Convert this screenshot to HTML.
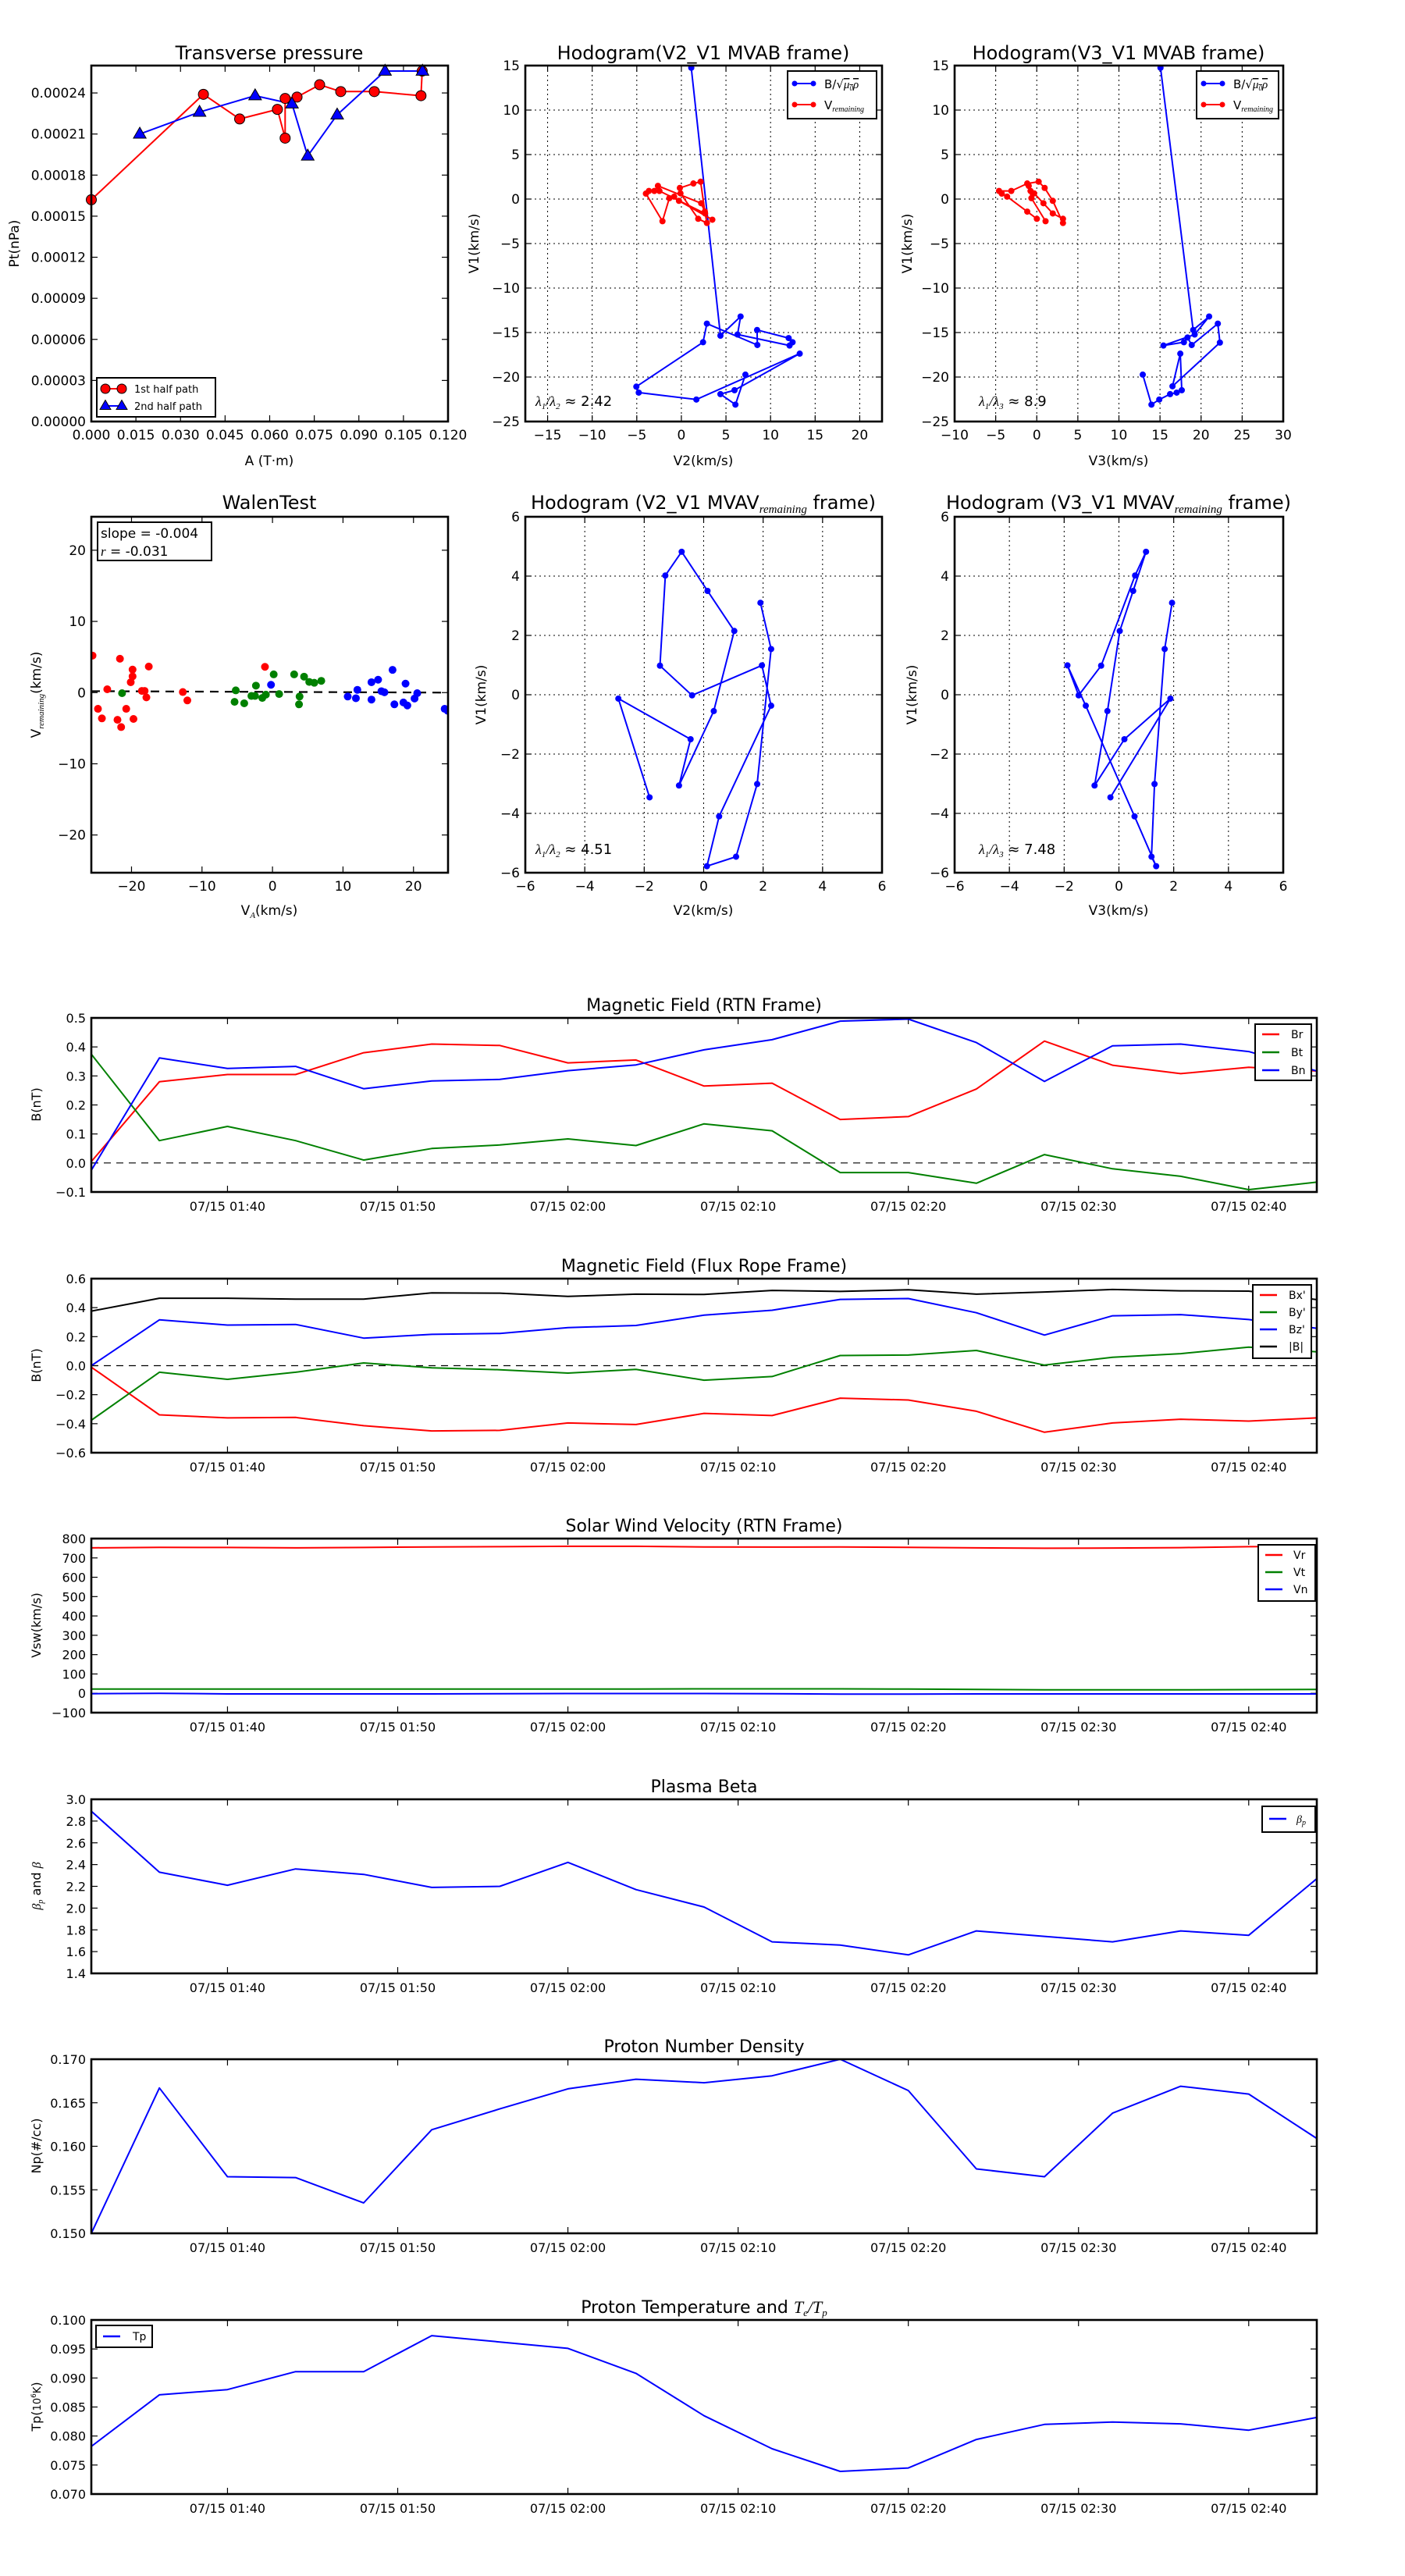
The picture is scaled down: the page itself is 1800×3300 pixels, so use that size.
<!DOCTYPE html>
<html><head><meta charset="utf-8">
<style>
html,body{margin:0;padding:0;background:#fff;}
svg{display:block;font-family:"DejaVu Sans","Liberation Sans",sans-serif;}
</style></head>
<body>
<svg id="fig" xmlns="http://www.w3.org/2000/svg" width="1800" height="3300" viewBox="0 0 1800 3300">
<rect x="0" y="0" width="1800" height="3300" fill="#fff"/>
</svg>
<script>
// ---------- Transverse pressure ----------
const ptRedA=[0,0.0377,0.0499,0.0626,0.0652,0.0652,0.0692,0.0768,0.0839,0.0952,0.1109,0.1113];
const ptRedP=[0.000162,0.000239,0.000221,0.000228,0.000207,0.000236,0.000237,0.000246,0.000241,0.000241,0.000238,0.000256];
const ptBlueA=[0.0163,0.0364,0.0551,0.0675,0.0728,0.0827,0.0988,0.1114];
const ptBlueP=[0.000210,0.000226,0.000238,0.000232,0.000194,0.000224,0.000256,0.000256];
const ptXTicks=[0,0.015,0.03,0.045,0.06,0.075,0.09,0.105,0.12];
const ptYTicks=[0,0.00003,0.00006,0.00009,0.00012,0.00015,0.00018,0.00021,0.00024];
// ---------- Hodogram V2_V1 MVAB ----------
const h1BlueV2=[1.11,4.38,6.64,6.3,12.13,12.47,12.03,8.49,8.52,2.86,2.43,-5.05,-4.78,1.68,13.27,5.96,4.38,6.06,7.18];
const h1BlueV1=[14.75,-15.35,-13.2,-15.22,-16.46,-16.09,-15.62,-14.71,-16.4,-14.0,-16.09,-21.08,-21.75,-22.53,-17.37,-21.48,-21.92,-23.1,-19.73];
const h1RedV2=[3.47,-0.27,-0.81,-1.35,-2.12,-3.98,-3.64,-3.03,-2.63,2.22,2.63,2.86,1.89,-0.1,-0.17,1.35,2.16,2.66,-2.46];
const h1RedV1=[-2.32,-0.2,0.27,0.1,-2.49,0.61,0.91,0.91,1.48,-0.47,-1.41,-2.69,-2.22,0.64,1.25,1.75,1.95,-1.62,0.91];
// ---------- Hodogram V3_V1 MVAB ----------
const h2BlueV3=[15.06,19.04,20.98,19.22,15.42,17.91,18.35,18.86,22.04,22.29,16.52,17.47,17.65,17.03,16.23,14.91,13.96,12.9];
const h2BlueV1=[14.75,-14.71,-13.2,-15.22,-16.46,-16.09,-15.56,-16.4,-14.0,-16.13,-21.04,-17.37,-21.48,-21.75,-21.92,-22.53,-23.1,-19.73];
const h2RedV3=[0.01,-1.16,-3.61,-4.26,-4.59,-3.1,-1.16,0.23,0.96,1.95,3.19,3.19,1.95,0.81,-0.32,-0.76,-0.98,-0.65,1.07];
const h2RedV1=[-2.22,-1.41,0.27,0.61,0.91,0.91,1.75,1.95,1.25,-0.2,-2.69,-2.22,-1.62,-0.47,0.64,0.91,1.48,0.1,-2.49];
const hodoYTicks=[-25,-20,-15,-10,-5,0,5,10,15];
const h1XTicks=[-15,-10,-5,0,5,10,15,20];
const h2XTicks=[-10,-5,0,5,10,15,20,25,30];
// ---------- Walen test ----------
const walRedX=[-25.53,-21.64,-19.85,-19.85,-20.11,-17.55,-23.44,-18.53,-18.14,-17.89,-24.76,-24.2,-20.75,-21.99,-21.47,-19.72,-12.72,-12.08,-1.07];
const walRedY=[5.2,4.76,3.23,2.28,1.46,3.66,0.47,0.24,0.24,-0.67,-2.28,-3.62,-2.28,-3.82,-4.84,-3.7,0.08,-1.1,3.62];
const walGreenX=[-21.34,-5.21,-5.38,-4.01,-2.35,-2.99,-2.48,-1.45,-0.94,0.17,0.94,3.07,4.48,5.21,5.93,6.92,3.84,3.76];
const walGreenY=[-0.08,0.31,-1.3,-1.5,0.98,-0.47,-0.47,-0.75,-0.28,2.56,-0.2,2.56,2.24,1.5,1.38,1.65,-0.55,-1.65];
const walBlueX=[-0.21,10.67,11.83,12.04,14.04,14.98,14.04,15.45,15.88,17.03,17.29,18.87,18.57,19.13,20.15,20.53,24.42,24.85];
const walBlueY=[1.1,-0.55,-0.79,0.39,1.46,1.81,-0.98,0.2,0.04,3.19,-1.65,1.26,-1.38,-1.81,-0.83,-0.08,-2.28,-2.56];
const walFit=[-0.004,0.1];
const walTicks=[-20,-10,0,10,20];
// ---------- MVAV hodograms ----------
const mvV2=[-1.82,-2.87,-0.44,-0.83,0.34,1.03,0.13,-0.74,-1.29,-1.47,-0.39,1.96,2.27,0.52,0.11,1.09,1.8,2.27,1.91];
const mvV1=[-3.46,-0.13,-1.5,-3.06,-0.55,2.15,3.5,4.82,4.02,0.98,-0.02,0.99,-0.37,-4.1,-5.78,-5.46,-3.01,1.54,3.1];
const mvV3=[-0.31,1.88,0.2,-0.89,-0.42,0.03,0.52,0.99,0.59,-0.65,-1.47,-1.88,-1.21,0.57,1.36,1.19,1.3,1.67,1.94];
const mvTicks=[-6,-4,-2,0,2,4,6];
// ---------- Time series (minutes after 01:32, every 4 min) ----------
const tMin=[0,4,8,12,16,20,24,28,32,36,40,44,48,52,56,60,64,68,72];
const tTickMin=[8,18,28,38,48,58,68];
const tTickLabels=["07/15 01:40","07/15 01:50","07/15 02:00","07/15 02:10","07/15 02:20","07/15 02:30","07/15 02:40"];
const bR=[0.005,0.28,0.305,0.305,0.38,0.41,0.405,0.345,0.355,0.265,0.275,0.15,0.16,0.255,0.42,0.337,0.308,0.33,0.317];
const bT=[0.375,0.077,0.126,0.077,0.01,0.05,0.062,0.083,0.06,0.135,0.111,-0.033,-0.033,-0.07,0.029,-0.02,-0.046,-0.092,-0.066];
const bN=[-0.025,0.362,0.326,0.333,0.256,0.283,0.288,0.318,0.338,0.39,0.425,0.489,0.496,0.415,0.281,0.404,0.41,0.384,0.317];
const bxP=[-0.01,-0.339,-0.36,-0.357,-0.414,-0.45,-0.446,-0.395,-0.406,-0.329,-0.344,-0.224,-0.237,-0.314,-0.459,-0.395,-0.369,-0.382,-0.36];
const byP=[-0.376,-0.045,-0.094,-0.045,0.019,-0.015,-0.028,-0.051,-0.026,-0.1,-0.075,0.07,0.073,0.105,0.004,0.058,0.083,0.128,0.096];
const bzP=[0,0.316,0.28,0.284,0.19,0.216,0.222,0.262,0.277,0.348,0.382,0.457,0.463,0.365,0.211,0.344,0.352,0.318,0.258];
const bMag=[0.376,0.465,0.465,0.459,0.459,0.502,0.5,0.478,0.493,0.491,0.519,0.512,0.523,0.493,0.508,0.525,0.516,0.514,0.455];
const vR=[752,755,754,752,754,757,758,760,760,757,756,757,755,752,750,751,753,758,760];
const vT=[22,22,22,22,22,22,22,22,22,23,23,23,22,20,18,18,18,19,20];
const vN=[-2,0,-3,-3,-3,-3,-2,-1,-1,-1,-2,-4,-4,-3,-3,-3,-3,-3,-3];
const betaP=[2.89,2.33,2.21,2.36,2.31,2.19,2.2,2.42,2.17,2.01,1.69,1.66,1.57,1.79,1.74,1.69,1.79,1.75,2.27];
const npDen=[0.150,0.1667,0.1565,0.1564,0.1535,0.1619,0.1643,0.1666,0.1677,0.1673,0.1681,0.170,0.1664,0.1574,0.1565,0.1638,0.1669,0.166,0.1609];
const tpTemp=[0.0782,0.0871,0.088,0.0911,0.0911,0.0973,0.0962,0.0951,0.0908,0.0835,0.0778,0.0739,0.0745,0.0794,0.082,0.0824,0.0821,0.081,0.0832];
const rtnTicks=[-0.1,0,0.1,0.2,0.3,0.4,0.5];
const fluxTicks=[-0.6,-0.4,-0.2,0,0.2,0.4,0.6];
const velTicks=[-100,0,100,200,300,400,500,600,700,800];
const betaTicks=[1.4,1.6,1.8,2.0,2.2,2.4,2.6,2.8,3.0];
const npTicks=[0.150,0.155,0.160,0.165,0.170];
const tpTicks=[0.070,0.075,0.080,0.085,0.090,0.095,0.100];

const NS='http://www.w3.org/2000/svg';
const svg=document.getElementById('fig');
function el(tag,attrs,parent,name){
  const e=document.createElementNS(NS,tag);
  for(const k in attrs) e.setAttribute(k,attrs[k]);
  
  
  (parent||svg).appendChild(e);
  return e;
}
function txt(x,y,s,size,anchor,parent,name,extra){
  const t=el('text',Object.assign({x:x,y:y,'font-size':size,'text-anchor':anchor,fill:'#000'},extra||{}),parent,name);
  t.innerHTML=s;
  return t;
}
function fmt(v,d){ return v.toFixed(d).replace('-','\u2212'); }
let clipId=0;
function axes(o){
  const g=el('g',{},svg,o.name);
  const sx=v=>o.l+(v-o.xmin)/(o.xmax-o.xmin)*(o.r-o.l);
  const sy=v=>o.b-(v-o.ymin)/(o.ymax-o.ymin)*(o.b-o.t);
  const id='c'+(clipId++);
  const cp=el('clipPath',{id:id},g,'clip-region');
  el('rect',{x:o.l,y:o.t,width:o.r-o.l,height:o.b-o.t},cp,'clip-rect');
  const tl=8;
  (o.xticks||[]).forEach((v,i)=>{
    const x=sx(v);
    if(o.grid) el('line',{x1:x,y1:o.t,x2:x,y2:o.b,stroke:'#000','stroke-width':1,'stroke-dasharray':'2,4'},g,'x-grid-line');
    el('line',{x1:x,y1:o.b,x2:x,y2:o.b-tl,stroke:'#000','stroke-width':1.2},g,'x-tick');
    el('line',{x1:x,y1:o.t,x2:x,y2:o.t+tl,stroke:'#000','stroke-width':1.2},g,'x-tick');
    const lab=o.xlabels?o.xlabels[i]:o.xfmt(v);
    txt(x,o.b+(o.xlabOff||23),lab,o.tickSize||17,'middle',g,'x-tick-label');
  });
  (o.yticks||[]).forEach((v,i)=>{
    const y=sy(v);
    if(o.grid) el('line',{x1:o.l,y1:y,x2:o.r,y2:y,stroke:'#000','stroke-width':1,'stroke-dasharray':'2,4'},g,'y-grid-line');
    el('line',{x1:o.l,y1:y,x2:o.l+tl,y2:y,stroke:'#000','stroke-width':1.2},g,'y-tick');
    el('line',{x1:o.r,y1:y,x2:o.r-tl,y2:y,stroke:'#000','stroke-width':1.2},g,'y-tick');
    txt(o.l-7,y+6,o.yfmt(v),o.tickSize||17,'end',g,'y-tick-label');
  });
  const data=el('g',{'clip-path':'url(#'+id+')'},g,'plot-area');
  return {g,sx,sy,data,o};
}
function frame(a){
  const o=a.o;
  el('rect',{x:o.l,y:o.t,width:o.r-o.l,height:o.b-o.t,fill:'none',stroke:'#000','stroke-width':2.6},a.g,'axes-frame');
}
function line(a,xs,ys,color,name,w){
  const pts=xs.map((x,i)=>a.sx(x).toFixed(1)+','+a.sy(ys[i]).toFixed(1)).join(' ');
  el('polyline',{points:pts,fill:'none',stroke:color,'stroke-width':w||2,'stroke-linejoin':'round'},a.data,name);
}
function dots(a,xs,ys,color,r,name,stroke){
  xs.forEach((x,i)=>{
    el('circle',{cx:a.sx(x),cy:a.sy(ys[i]),r:r,fill:color,stroke:stroke||'none','stroke-width':1},a.g,name);
  });
}
function tri(parent,cx,cy,s,name){
  return el('polygon',{points:(cx)+','+(cy-s*0.62)+' '+(cx-s*0.58)+','+(cy+s*0.38)+' '+(cx+s*0.58)+','+(cy+s*0.38),fill:'#00f',stroke:'#000','stroke-width':1},parent,name);
}
function ylab(x,y,s,size,parent,name){
  return txt(x,y,s,size,'middle',parent,name,{transform:'rotate(-90 '+x+' '+y+')'});
}
const SUBREM='<tspan font-family="Liberation Serif, serif" font-style="italic" font-size="11" dy="4">remaining</tspan>';

// ===== Panel 1: Transverse pressure =====
(function(){
  const a=axes({name:'transverse-pressure-panel',l:117,r:574,t:84,b:540,xmin:0,xmax:0.12,ymin:0,ymax:0.00026,
    xticks:ptXTicks,yticks:ptYTicks,xfmt:v=>v.toFixed(3),yfmt:v=>v.toFixed(5)});
  txt(345,76,'Transverse pressure',24,'middle',a.g,'chart-title');
  txt(345,596,'A (T·m)',17,'middle',a.g,'x-axis-title');
  ylab(24,312,'Pt(nPa)',17,a.g,'y-axis-title');
  line(a,ptRedA,ptRedP,'#f00','first-half-line',2);
  line(a,ptBlueA,ptBlueP,'#00f','second-half-line',2);
  dots(a,ptRedA,ptRedP,'#f00',6.5,'first-half-point','#000');
  ptBlueA.forEach((x,i)=>{ tri(a.g,a.sx(x),a.sy(ptBlueP[i]),14,'second-half-point'); });
  frame(a);
  const lg=el('g',{},a.g,'legend');
  el('rect',{x:124,y:484,width:152,height:50,fill:'#fff',stroke:'#000','stroke-width':2},lg,'legend-box');
  el('line',{x1:135,y1:498,x2:156,y2:498,stroke:'#f00','stroke-width':2},lg,'legend-swatch-line');
  el('circle',{cx:135,cy:498,r:6,fill:'#f00',stroke:'#000'},lg,'legend-marker');
  el('circle',{cx:156,cy:498,r:6,fill:'#f00',stroke:'#000'},lg,'legend-marker');
  txt(172,503,'1st half path',13,'start',lg,'legend-entry');
  el('line',{x1:135,y1:520,x2:156,y2:520,stroke:'#00f','stroke-width':2},lg,'legend-swatch-line');
  tri(lg,135,520,12,'legend-marker'); tri(lg,156,520,12,'legend-marker');
  txt(172,525,'2nd half path',13,'start',lg,'legend-entry');
})();

function hodoLegend(parent,x,y,w){
  const lg=el('g',{},parent,'legend');
  el('rect',{x:x,y:y,width:w,height:61,fill:'#fff',stroke:'#000','stroke-width':2},lg,'legend-box');
  el('line',{x1:x+9,y1:y+16,x2:x+33,y2:y+16,stroke:'#00f','stroke-width':2},lg,'legend-swatch-line');
  el('circle',{cx:x+9,cy:y+16,r:3.5,fill:'#00f'},lg,'legend-marker');
  el('circle',{cx:x+33,cy:y+16,r:3.5,fill:'#00f'},lg,'legend-marker');
  txt(x+47,y+22,'B/√<tspan font-family="Liberation Serif, serif" font-style="italic" text-decoration="overline">μ<tspan font-size="9" dy="3">0</tspan><tspan dy="-3">ρ</tspan></tspan>',15,'start',lg,'legend-entry');
  el('line',{x1:x+9,y1:y+43,x2:x+33,y2:y+43,stroke:'#f00','stroke-width':2},lg,'legend-swatch-line');
  el('circle',{cx:x+9,cy:y+43,r:3.5,fill:'#f00'},lg,'legend-marker');
  el('circle',{cx:x+33,cy:y+43,r:3.5,fill:'#f00'},lg,'legend-marker');
  txt(x+47,y+49,'V<tspan font-family="Liberation Serif, serif" font-style="italic" font-size="10" dy="3">remaining</tspan>',15,'start',lg,'legend-entry');
}
// ===== Panel 2: Hodogram V2_V1 =====
(function(){
  const a=axes({name:'hodogram-v2-v1-mvab',l:673,r:1130,t:84,b:540,xmin:-17.5,xmax:22.5,ymin:-25,ymax:15,grid:true,
    xticks:h1XTicks,yticks:hodoYTicks,xfmt:v=>fmt(v,0),yfmt:v=>fmt(v,0)});
  txt(901,76,'Hodogram(V2_V1 MVAB frame)',24,'middle',a.g,'chart-title');
  txt(901,596,'V2(km/s)',17,'middle',a.g,'x-axis-title');
  ylab(613,312,'V1(km/s)',17,a.g,'y-axis-title');
  line(a,h1BlueV2,h1BlueV1,'#00f','b-series-line',2);
  dots(a,h1BlueV2,h1BlueV1,'#00f',4,'b-series-point');
  line(a,h1RedV2,h1RedV1,'#f00','v-remaining-line',2);
  dots(a,h1RedV2,h1RedV1,'#f00',4,'v-remaining-point');
  frame(a);
  hodoLegend(a.g,1009,91,114);
  txt(686,520,'<tspan font-family="Liberation Serif, serif" font-style="italic">λ<tspan font-size="11" dy="4">1</tspan><tspan dy="-4">/λ</tspan><tspan font-size="11" dy="4">2</tspan></tspan><tspan dy="-4"> ≈ 2.42</tspan>',18,'start',a.g,'eigenvalue-ratio');
})();
// ===== Panel 3: Hodogram V3_V1 =====
(function(){
  const a=axes({name:'hodogram-v3-v1-mvab',l:1223,r:1644,t:84,b:540,xmin:-10,xmax:30,ymin:-25,ymax:15,grid:true,
    xticks:h2XTicks,yticks:hodoYTicks,xfmt:v=>fmt(v,0),yfmt:v=>fmt(v,0)});
  txt(1433,76,'Hodogram(V3_V1 MVAB frame)',24,'middle',a.g,'chart-title');
  txt(1433,596,'V3(km/s)',17,'middle',a.g,'x-axis-title');
  ylab(1168,312,'V1(km/s)',17,a.g,'y-axis-title');
  line(a,h2BlueV3,h2BlueV1,'#00f','b-series-line',2);
  dots(a,h2BlueV3,h2BlueV1,'#00f',4,'b-series-point');
  line(a,h2RedV3,h2RedV1,'#f00','v-remaining-line',2);
  dots(a,h2RedV3,h2RedV1,'#f00',4,'v-remaining-point');
  frame(a);
  hodoLegend(a.g,1533,91,105);
  txt(1254,520,'<tspan font-family="Liberation Serif, serif" font-style="italic">λ<tspan font-size="11" dy="4">1</tspan><tspan dy="-4">/λ</tspan><tspan font-size="11" dy="4">3</tspan></tspan><tspan dy="-4"> ≈ 8.9</tspan>',18,'start',a.g,'eigenvalue-ratio');
})();
// ===== Walen test =====
(function(){
  const a=axes({name:'walen-test-panel',l:117,r:574,t:662,b:1118,xmin:-25.7,xmax:24.9,ymin:-25.3,ymax:24.7,
    xticks:walTicks,yticks:walTicks,xfmt:v=>fmt(v,0),yfmt:v=>fmt(v,0)});
  txt(345,652,'WalenTest',24,'middle',a.g,'chart-title');
  txt(345,1172,'V<tspan font-family="Liberation Serif, serif" font-style="italic" font-size="11" dy="4">A</tspan><tspan dy="-4">(km/s)</tspan>',17,'middle',a.g,'x-axis-title');
  ylab(52,890,'V'+SUBREM+'<tspan dy="-4">(km/s)</tspan>',17,a.g,'y-axis-title');
  el('line',{x1:a.sx(-25.7),y1:a.sy(walFit[0]*-25.7+walFit[1]),x2:a.sx(24.9),y2:a.sy(walFit[0]*24.9+walFit[1]),stroke:'#000','stroke-width':2.2,'stroke-dasharray':'11,8'},a.data,'fit-line');
  [[walRedX,walRedY,'#f00'],[walGreenX,walGreenY,'#008000'],[walBlueX,walBlueY,'#00f']].forEach(s=>{
    s[0].forEach((x,i)=>{ el('circle',{cx:a.sx(x),cy:a.sy(s[1][i]),r:5,fill:s[2]},a.data,'walen-point'); });
  });
  frame(a);
  const bx=el('g',{},a.g,'stats-box');
  el('rect',{x:125,y:669,width:146,height:49,fill:'#fff',stroke:'#000','stroke-width':2},bx,'stats-box-frame');
  txt(129,689,'slope = -0.004',17,'start',bx,'slope-text');
  txt(129,712,'<tspan font-family="Liberation Serif, serif" font-style="italic">r</tspan> = -0.031',17,'start',bx,'r-text');
})();
// ===== MVAV hodograms =====
(function(){
  const a=axes({name:'hodogram-v2-v1-mvav',l:673,r:1130,t:662,b:1118,xmin:-6,xmax:6,ymin:-6,ymax:6,grid:true,
    xticks:mvTicks,yticks:mvTicks,xfmt:v=>fmt(v,0),yfmt:v=>fmt(v,0)});
  txt(901,652,'Hodogram (V2_V1 MVAV<tspan font-family="Liberation Serif, serif" font-style="italic" font-size="15" dy="5">remaining</tspan><tspan dy="-5"> frame)</tspan>',24,'middle',a.g,'chart-title');
  txt(901,1172,'V2(km/s)',17,'middle',a.g,'x-axis-title');
  ylab(622,890,'V1(km/s)',17,a.g,'y-axis-title');
  line(a,mvV2,mvV1,'#00f','hodogram-line',2);
  dots(a,mvV2,mvV1,'#00f',4,'hodogram-point');
  frame(a);
  txt(686,1094,'<tspan font-family="Liberation Serif, serif" font-style="italic">λ<tspan font-size="11" dy="4">1</tspan><tspan dy="-4">/λ</tspan><tspan font-size="11" dy="4">2</tspan></tspan><tspan dy="-4"> ≈ 4.51</tspan>',18,'start',a.g,'eigenvalue-ratio');
})();
(function(){
  const a=axes({name:'hodogram-v3-v1-mvav',l:1223,r:1644,t:662,b:1118,xmin:-6,xmax:6,ymin:-6,ymax:6,grid:true,
    xticks:mvTicks,yticks:mvTicks,xfmt:v=>fmt(v,0),yfmt:v=>fmt(v,0)});
  txt(1433,652,'Hodogram (V3_V1 MVAV<tspan font-family="Liberation Serif, serif" font-style="italic" font-size="15" dy="5">remaining</tspan><tspan dy="-5"> frame)</tspan>',24,'middle',a.g,'chart-title');
  txt(1433,1172,'V3(km/s)',17,'middle',a.g,'x-axis-title');
  ylab(1174,890,'V1(km/s)',17,a.g,'y-axis-title');
  line(a,mvV3,mvV1,'#00f','hodogram-line',2);
  dots(a,mvV3,mvV1,'#00f',4,'hodogram-point');
  frame(a);
  txt(1254,1094,'<tspan font-family="Liberation Serif, serif" font-style="italic">λ<tspan font-size="11" dy="4">1</tspan><tspan dy="-4">/λ</tspan><tspan font-size="11" dy="4">3</tspan></tspan><tspan dy="-4"> ≈ 7.48</tspan>',18,'start',a.g,'eigenvalue-ratio');
})();

// ===== Time series =====
function ts(p){
  const a=axes({name:p.name,l:117,r:1687,t:p.top,b:p.top+223,xmin:0,xmax:72,ymin:p.ymin,ymax:p.ymax,
    xticks:tTickMin,xlabels:tTickLabels,yticks:p.yticks,yfmt:p.yfmt,tickSize:16,xlabOff:24});
  txt(902,p.top-9,p.title,22,'middle',a.g,'chart-title');
  ylab(52,p.top+111,p.ylabel,16,a.g,'y-axis-title');
  if(p.zero) el('line',{x1:117,y1:a.sy(0),x2:1687,y2:a.sy(0),stroke:'#000','stroke-width':1.2,'stroke-dasharray':'9,7'},a.data,'zero-line');
  p.series.forEach(s=>line(a,tMin,s.v,s.c,s.n,2));
  frame(a);
  if(p.leg){
    const L=p.leg;
    const lg=el('g',{},a.g,'legend');
    el('rect',{x:L.x,y:L.y,width:L.w,height:L.h,fill:'#fff',stroke:'#000','stroke-width':2},lg,'legend-box');
    p.series.forEach((s,i)=>{
      const yy=L.y0+i*L.dy;
      el('line',{x1:L.lx,y1:yy,x2:L.lx+22,y2:yy,stroke:s.c,'stroke-width':2.4},lg,'legend-swatch');
      txt(L.tx,yy+5,s.label,14,'start',lg,'legend-entry');
    });
  }
  return a;
}
ts({name:'magnetic-field-rtn-panel',top:1304,ymin:-0.1,ymax:0.5,yticks:rtnTicks,yfmt:v=>fmt(v,1),
  title:'Magnetic Field (RTN Frame)',ylabel:'B(nT)',zero:true,
  series:[{v:bR,c:'#f00',n:'br-line',label:'Br'},{v:bT,c:'#008000',n:'bt-line',label:'Bt'},{v:bN,c:'#00f',n:'bn-line',label:'Bn'}],
  leg:{x:1608,y:1312,w:72,h:72,y0:1325,dy:23,lx:1617,tx:1654}});
ts({name:'magnetic-field-flux-rope-panel',top:1638,ymin:-0.6,ymax:0.6,yticks:fluxTicks,yfmt:v=>fmt(v,1),
  title:'Magnetic Field (Flux Rope Frame)',ylabel:'B(nT)',zero:true,
  series:[{v:bxP,c:'#f00',n:'bx-line',label:"Bx'"},{v:byP,c:'#008000',n:'by-line',label:"By'"},{v:bzP,c:'#00f',n:'bz-line',label:"Bz'"},{v:bMag,c:'#000',n:'bmag-line',label:'|B|'}],
  leg:{x:1605,y:1646,w:75,h:94,y0:1659,dy:22,lx:1614,tx:1651}});
ts({name:'solar-wind-velocity-panel',top:1971,ymin:-100,ymax:800,yticks:velTicks,yfmt:v=>fmt(v,0),
  title:'Solar Wind Velocity (RTN Frame)',ylabel:'Vsw(km/s)',
  series:[{v:vR,c:'#f00',n:'vr-line',label:'Vr'},{v:vT,c:'#008000',n:'vt-line',label:'Vt'},{v:vN,c:'#00f',n:'vn-line',label:'Vn'}],
  leg:{x:1612,y:1979,w:73,h:72,y0:1992,dy:22,lx:1621,tx:1657}});
ts({name:'plasma-beta-panel',top:2305,ymin:1.4,ymax:3.0,yticks:betaTicks,yfmt:v=>fmt(v,1),
  title:'Plasma Beta',ylabel:'<tspan font-family="Liberation Serif, serif" font-style="italic">β<tspan font-size="10" dy="3">p</tspan></tspan><tspan dy="-3"> and </tspan><tspan font-family="Liberation Serif, serif" font-style="italic">β</tspan>',
  series:[{v:betaP,c:'#00f',n:'beta-p-line',label:'<tspan font-family="Liberation Serif, serif" font-style="italic">β<tspan font-size="10" dy="3">p</tspan></tspan>'}],
  leg:{x:1617,y:2314,w:68,h:33,y0:2330,dy:22,lx:1626,tx:1661}});
ts({name:'proton-density-panel',top:2638,ymin:0.150,ymax:0.170,yticks:npTicks,yfmt:v=>fmt(v,3),
  title:'Proton Number Density',ylabel:'Np(#/cc)',
  series:[{v:npDen,c:'#00f',n:'np-line',label:'Np'}]});
ts({name:'proton-temperature-panel',top:2972,ymin:0.070,ymax:0.100,yticks:tpTicks,yfmt:v=>fmt(v,3),
  title:'Proton Temperature and <tspan font-family="Liberation Serif, serif" font-style="italic">T<tspan font-size="13" dy="4">e</tspan><tspan dy="-4">/T</tspan><tspan font-size="13" dy="4">p</tspan></tspan>',
  ylabel:'Tp(<tspan font-size="13">10<tspan font-size="9" dy="-6">6</tspan><tspan dy="6">K</tspan></tspan>)',
  series:[{v:tpTemp,c:'#00f',n:'tp-line',label:'Tp'}],
  leg:{x:123,y:2979,w:72,h:28,y0:2993,dy:22,lx:132,tx:170}});
</script>
</body></html>
